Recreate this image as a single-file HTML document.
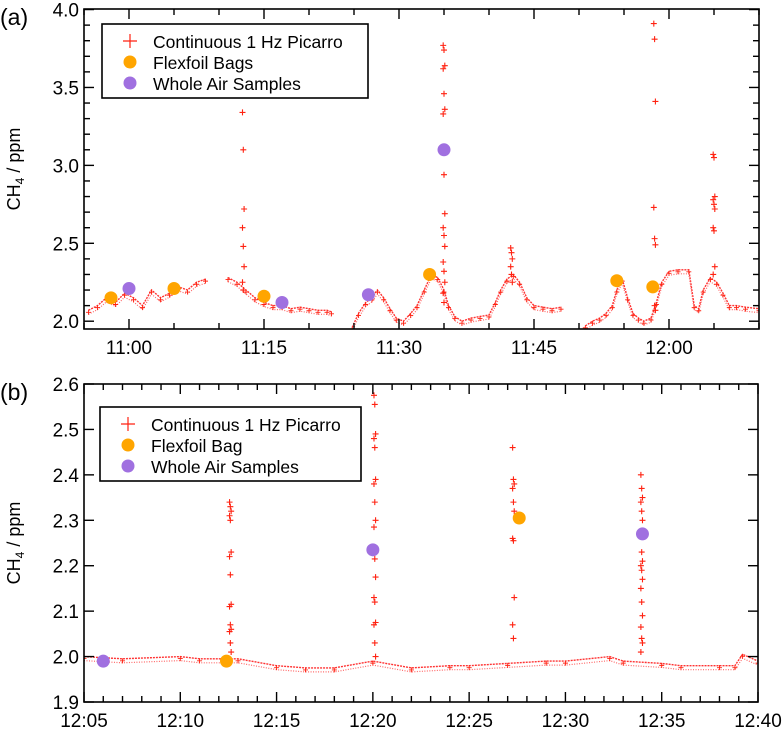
<!DOCTYPE html>
<html><head><meta charset="utf-8"><style>
body{margin:0;background:#fff}
svg{display:block;font-family:"Liberation Sans",Arial,sans-serif}
</style></head><body>
<svg id="chart" width="784" height="732"></svg>
<script>
// Panel (a): minutes after 11:00
const aSegments = [
 [[-4.5,2.07],[-3.5,2.1],[-2.5,2.15],[-1.5,2.12],[-0.5,2.18],[0.5,2.15],[1.5,2.1],[2.5,2.2],[3.5,2.15],[4.5,2.18],[5.5,2.22],[6.5,2.2],[7.5,2.25],[8.5,2.27]],
 [[11,2.28],[12,2.25],[13,2.2],[14,2.15],[15,2.12],[16,2.1],[17,2.1],[18,2.08],[19,2.09],[20,2.08],[21,2.07],[22,2.07],[22.5,2.06]],
 [[24.8,1.96],[25.5,2.05],[26.3,2.12],[27,2.15],[27.6,2.2],[28.3,2.15],[29,2.08],[29.7,2.02],[30.5,2.0],[31.3,2.05],[32,2.1],[32.8,2.2],[33.6,2.3],[34.3,2.28],[35,2.2],[35.5,2.1],[36.2,2.03],[37,2.0],[38,2.02],[39,2.03],[40,2.04],[40.7,2.12],[41.3,2.2],[42,2.27],[42.7,2.3],[43.4,2.25],[44.2,2.15],[45,2.1],[46,2.09],[47,2.08],[48,2.09]],
 [[50.7,1.97],[51.5,2.0],[52.3,2.02],[53,2.05],[53.7,2.1],[54.2,2.2],[54.8,2.27],[55.4,2.15],[56,2.05],[56.6,2.02],[57.2,2.0],[58,2.02],[58.6,2.12],[59.2,2.25],[60,2.32],[61,2.33],[62.2,2.33],[62.8,2.1],[63.3,2.08],[63.8,2.2],[64.6,2.28],[65.3,2.25],[66,2.18],[66.7,2.1],[67.5,2.1],[68.5,2.09],[70,2.08]]
];
const aSpikeTimes = [12.7, 35.0, 42.5, 58.4, 65.0];
const aSpikeValues = [
 [3.34,3.1,2.72,2.6,2.48,2.35,2.25,2.2],
 [3.77,3.74,3.64,3.62,3.46,3.36,3.33,2.94,2.69,2.6,2.55,2.48,2.38,2.32,2.25,2.18,2.12],
 [2.47,2.44,2.40,2.35,2.3,2.25],
 [3.91,3.81,3.41,2.73,2.53,2.49,2.2,2.1,2.07],
 [3.07,3.05,2.8,2.78,2.75,2.72,2.6,2.58,2.35,2.3]
];
const aBagTimes = [-2, 5, 15, 33.4, 54.2, 58.2];
const aBagValues = [2.15, 2.21, 2.16, 2.30, 2.26, 2.22];
const aWasTimes = [0, 17, 26.6, 35];
const aWasValues = [2.21, 2.12, 2.17, 3.10];
const aYTicks = [2.0, 2.5, 3.0, 3.5, 4.0];
const aXTicks = [0, 15, 30, 45, 60];
const aXLabels = ["11:00","11:15","11:30","11:45","12:00"];

// Panel (b): minutes after 12:05
const bSegments = [
 [[0,2.0],[2,1.995],[5,2.0],[6,1.995],[8,1.995],[10,1.98],[11.5,1.975],[13,1.975],[15,1.99],[17,1.975],[19,1.98],[20,1.98],[22,1.985],[24,1.99],[25,1.99],[27.3,2.0],[28,1.99],[30,1.985],[31,1.98],[33,1.98],[33.8,1.98],[34.2,2.005],[35,1.99],[36,1.975],[37,1.97],[38,1.96],[39,1.975],[40,1.985]]
];
const bSpikeTimes = [7.6, 15.1, 22.3, 28.96];
const bSpikeValues = [
 [2.34,2.33,2.32,2.31,2.30,2.23,2.22,2.18,2.115,2.11,2.07,2.06,2.055,2.03,2.01],
 [2.575,2.555,2.49,2.48,2.46,2.39,2.38,2.34,2.3,2.285,2.215,2.175,2.13,2.12,2.075,2.07,2.03,2.0],
 [2.46,2.39,2.38,2.37,2.34,2.32,2.26,2.255,2.13,2.07,2.04],
 [2.40,2.37,2.35,2.34,2.32,2.30,2.27,2.23,2.21,2.2,2.19,2.17,2.15,2.12,2.09,2.065,2.04,2.03,2.01]
];
const bBagTimes = [7.4, 22.6];
const bBagValues = [1.99, 2.305];
const bWasTimes = [1.0, 15.0, 29.0];
const bWasValues = [1.99, 2.235, 2.27];
const bYTicks = [1.9,2.0,2.1,2.2,2.3,2.4,2.5,2.6];
const bXTicks = [0,5,10,15,20,25,30,35];
const bXLabels = ["12:05","12:10","12:15","12:20","12:25","12:30","12:35","12:40"];

const NS = "http://www.w3.org/2000/svg";
const svg = document.getElementById('chart');
function mk(tag, attrs, parent){const e=document.createElementNS(NS,tag);for(const k in attrs)e.setAttribute(k,attrs[k]);(parent||svg).appendChild(e);return e;}

function panel(cfg){
  const {L,T,R,B,x0,x1,y0,y1,name} = cfg;
  const sx = t => L + (t-x0)/(x1-x0)*(R-L);
  const sy = v => B - (v-y0)/(y1-y0)*(B-T);
  const g = mk('g',{});
  
  
  const clip = mk('clipPath',{id:name+'clip'},g);
  mk('rect',{x:L,y:T,width:R-L,height:B-T},clip);
  const plot = mk('g',{'clip-path':'url(#'+name+'clip)'},g);
  
  
  function cross(x,y,s,w){mk('path',{d:`M${x-s} ${y}H${x+s}M${x} ${y-s}V${y+s}`,stroke:'#f21',
    'stroke-width':w,fill:'none'},plot);}
  cfg.segs.forEach(seg=>{
    const pts = seg.map(p=>sx(p[0]).toFixed(1)+','+sy(p[1]).toFixed(1)).join(' ');
    mk('polyline',{points:pts,fill:'none',stroke:'#f33','stroke-width':1.4,'stroke-dasharray':'2 1'},plot);
    const pts2 = seg.map(p=>sx(p[0]).toFixed(1)+','+(sy(p[1])+4).toFixed(1)).join(' ');
    mk('polyline',{points:pts2,fill:'none',stroke:'#f66','stroke-width':1.2,'stroke-dasharray':'1 1.5'},plot);
    seg.forEach(p=>cross(sx(p[0]),sy(p[1])+2,2.5,0.9));
  });
  cfg.spT.forEach((t,i)=>cfg.spV[i].forEach((v,j)=>cross(sx(t)+(j%3-1)*0.8,sy(v),3,1.1)));
  cfg.bagT.forEach((t,i)=>{const c=mk('circle',{cx:sx(t),cy:sy(cfg.bagV[i]),r:6.5,fill:'#ffa500'},g);
    
    });
  cfg.wasT.forEach((t,i)=>{const c=mk('circle',{cx:sx(t),cy:sy(cfg.wasV[i]),r:6.5,fill:'#a070e0'},g);
    
    });
  const fr = mk('rect',{x:L,y:T,width:R-L,height:B-T,fill:'none',stroke:'#000','stroke-width':1.6},g);
  
  
  const ax = mk('g',{stroke:'#000','stroke-width':1.4},g);
  for(let v=cfg.yMinorStart; v<=y1+1e-6; v+=cfg.yMinor){
    const y=sy(v); const major = cfg.yT.some(t=>Math.abs(t-v)<1e-6);
    const len = major?10:6;
    mk('line',{x1:L,x2:L+len,y1:y,y2:y},ax);
    mk('line',{x1:R,x2:R-len,y1:y,y2:y},ax);
  }
  for(let t=x0; t<=x1+1e-6; t+=cfg.xMinor){
    const x=sx(t); const major = cfg.xT.some(k=>Math.abs(k-t)<1e-6);
    const len = major?10:6;
    mk('line',{x1:x,x2:x,y1:B,y2:B-len},ax);
    mk('line',{x1:x,x2:x,y1:T,y2:T+len},ax);
  }
  cfg.yT.forEach(v=>{const tx=mk('text',{x:L-5,y:sy(v)+7,'text-anchor':'end','font-size':19},g);tx.textContent=v.toFixed(1);
    });
  cfg.xT.forEach((t,i)=>{const tx=mk('text',{x:sx(t),y:B+25,'text-anchor':'middle','font-size':19},g);tx.textContent=cfg.xL[i];
    });
  const yt = mk('text',{transform:`translate(20,${(T+B)/2}) rotate(-90)`,'text-anchor':'middle','font-size':18},g);
  yt.innerHTML = 'CH<tspan font-size="12" dy="4">4</tspan><tspan dy="-4"> / ppm</tspan>';
  
  const pl = mk('text',{x:0,y:T+16,'font-size':23},g); pl.textContent=cfg.label;
  
  const lg = mk('g',{},g);
  
  const lx=cfg.lg[0], ly=cfg.lg[1];
  mk('rect',{x:lx,y:ly,width:cfg.lg[2],height:74,fill:'#fff',stroke:'#000','stroke-width':1.6},lg);
  mk('path',{d:`M${lx+21} ${ly+17}h14M${lx+28} ${ly+10}v14`,stroke:'#f21','stroke-width':1.2},lg);
  mk('circle',{cx:lx+28,cy:ly+38,r:6.5,fill:'#ffa500'},lg);
  mk('circle',{cx:lx+28,cy:ly+59,r:6.5,fill:'#a070e0'},lg);
  cfg.lgText.forEach((s,i)=>{const tx=mk('text',{x:lx+51,y:ly+24+i*21,'font-size':17.5},lg);tx.textContent=s;
    });
}

panel({name:'a',L:84,T:9,R:759,B:329,x0:-5,x1:70,y0:1.95,y1:4.0035,segs:aSegments,spT:aSpikeTimes,spV:aSpikeValues,
  bagT:aBagTimes,bagV:aBagValues,wasT:aWasTimes,wasV:aWasValues,yT:aYTicks,xT:aXTicks,xL:aXLabels,
  yMinorStart:2.0,yMinor:0.1,xMinor:5,label:'(a)',lg:[102,24,266],
  lgText:['Continuous 1 Hz Picarro','Flexfoil Bags','Whole Air Samples']});
panel({name:'b',L:84,T:384,R:758,B:702,x0:0,x1:35,y0:1.9,y1:2.6,segs:bSegments,spT:bSpikeTimes,spV:bSpikeValues,
  bagT:bBagTimes,bagV:bBagValues,wasT:bWasTimes,wasV:bWasValues,yT:bYTicks,xT:bXTicks,xL:bXLabels,
  yMinorStart:1.9,yMinor:0.1,xMinor:1,label:'(b)',lg:[100,407,261],
  lgText:['Continuous 1 Hz Picarro','Flexfoil Bag','Whole Air Samples']});
</script>
</body></html>
